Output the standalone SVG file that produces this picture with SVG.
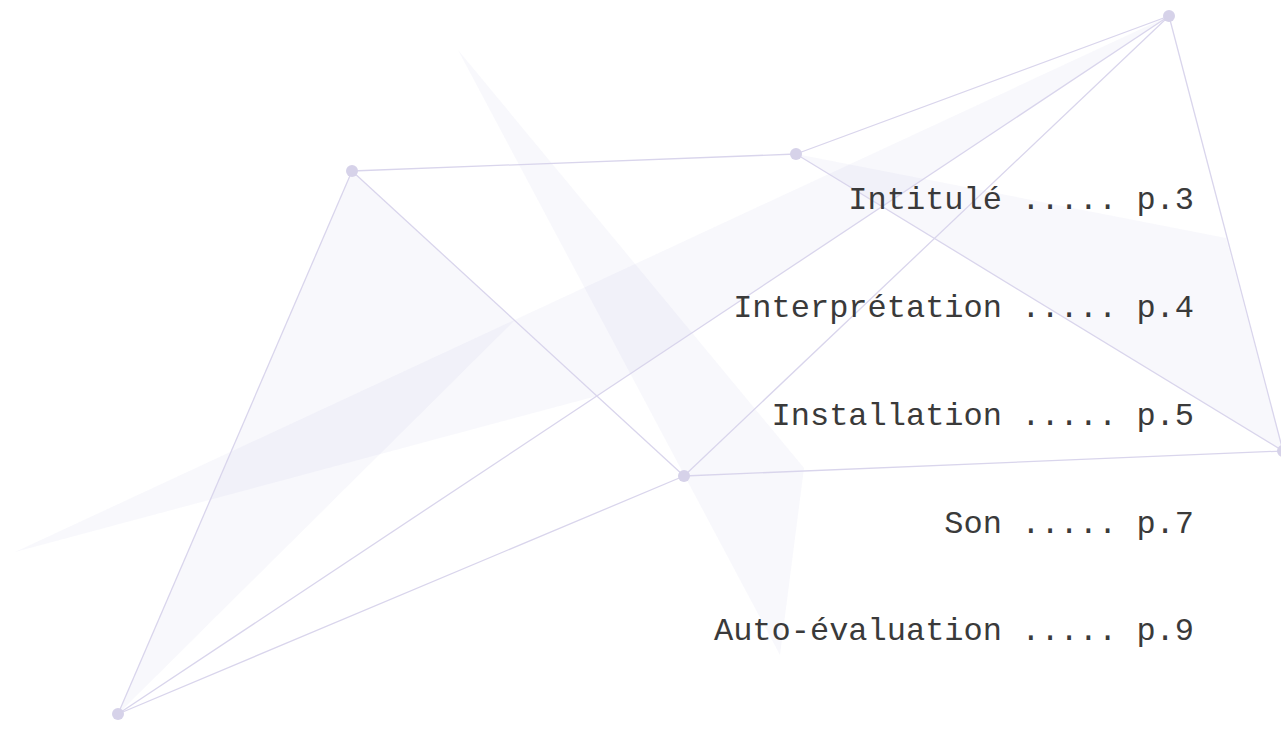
<svg xmlns="http://www.w3.org/2000/svg" width="1281" height="731" viewBox="0 0 1281 731">
<style>
.shape{fill:rgb(190,185,222);fill-opacity:0.1;stroke:none}
.edge{stroke:#d9d5ec;stroke-width:1.3;fill:none}
.dot{fill:#d6d2e9}
.toc{font-family:"Liberation Mono","Courier New",monospace;font-size:32px;fill:#3a3a3a;text-anchor:end}
</style>
<rect width="1281" height="731" fill="#ffffff"/>
<g id="shapes">
<polygon class="shape" points="15,552 1169,16 597,396"/>
<polygon class="shape" points="352,171 515,320 118,714"/>
<polygon class="shape" points="458,50 804,468 780,655"/>
<polygon class="shape" points="796,154 1226,238 1283,451"/>
</g>
<g id="connectors">
<line class="edge" x1="352" y1="171" x2="796" y2="154"/>
<line class="edge" x1="796" y1="154" x2="1169" y2="16"/>
<line class="edge" x1="352" y1="171" x2="684" y2="476"/>
<line class="edge" x1="352" y1="171" x2="118" y2="714"/>
<line class="edge" x1="1169" y1="16" x2="1283" y2="451"/>
<line class="edge" x1="796" y1="154" x2="1283" y2="451"/>
<line class="edge" x1="684" y1="476" x2="1283" y2="451"/>
<line class="edge" x1="684" y1="476" x2="1169" y2="16"/>
<line class="edge" x1="118" y1="714" x2="684" y2="476"/>
<line class="edge" x1="118" y1="714" x2="1169" y2="16"/>
</g>
<g id="node-a"><circle class="dot" cx="352" cy="171" r="6"/></g>
<g id="node-b"><circle class="dot" cx="796" cy="154" r="6"/></g>
<g id="node-c"><circle class="dot" cx="1169" cy="16" r="6"/></g>
<g id="node-d"><circle class="dot" cx="1283" cy="451" r="6"/></g>
<g id="node-e"><circle class="dot" cx="684" cy="476" r="6"/></g>
<g id="node-f"><circle class="dot" cx="118" cy="714" r="6"/></g>
<g id="toc">
<text class="toc" x="1194" y="209">Intitulé ..... p.3</text>
<text class="toc" x="1194" y="317">Interprétation ..... p.4</text>
<text class="toc" x="1194" y="425">Installation ..... p.5</text>
<text class="toc" x="1194" y="533">Son ..... p.7</text>
<text class="toc" x="1194" y="640">Auto-évaluation ..... p.9</text>
</g>
</svg>
